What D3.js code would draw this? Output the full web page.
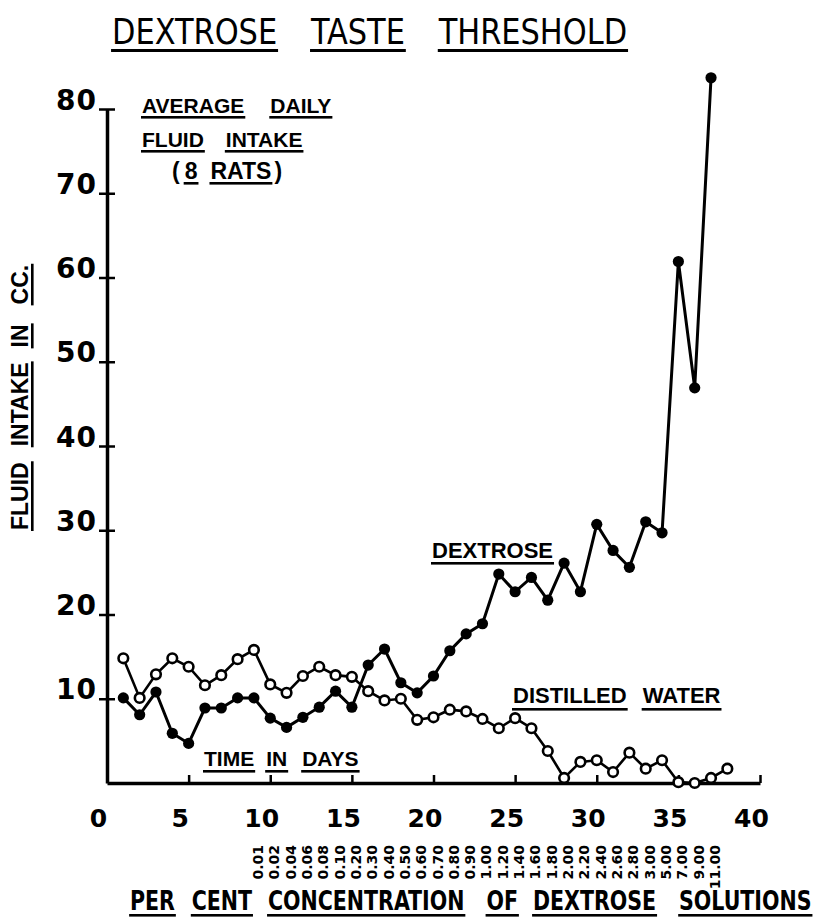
<!DOCTYPE html>
<html>
<head>
<meta charset="utf-8">
<script src="https://cdn.jsdelivr.net/npm/d3@7"></script>
<style>
  body { margin: 0; background: #fff; }
  svg { display: block; }
</style>
</head>
<body>
<div id="chart"></div>
<script>
// values (cc per day, day 1 onwards)
const dextrose = [10.1, 8.1, 10.8, 5.9, 4.7, 8.9, 8.9, 10.1, 10.1, 7.7,
    6.6, 7.8, 9.0, 10.9, 9.0, 14.0, 15.9, 11.9, 10.7, 12.7,
    15.7, 17.7, 18.9, 24.8, 22.7, 24.4, 21.7, 26.1, 22.7, 30.7,
    27.6, 25.6, 31.0, 29.7, 61.9, 46.9, 83.7];
const water = [14.8, 10.1, 12.9, 14.8, 13.8, 11.6, 12.8, 14.7, 15.8, 11.7,
    10.7, 12.7, 13.8, 12.8, 12.6, 10.9, 9.8, 10.0, 7.5, 7.8,
    8.7, 8.5, 7.6, 6.5, 7.7, 6.5, 3.8, 0.6, 2.5, 2.7,
    1.3, 3.6, 1.7, 2.7, 0.1, 0.0, 0.6, 1.7];
const concentrations = ["0.01", "0.02", "0.04", "0.06", "0.08", "0.10", "0.20", "0.30",
    "0.40", "0.50", "0.60", "0.70", "0.80", "0.90", "1.00", "1.20", "1.40", "1.60",
    "1.80", "2.00", "2.20", "2.40", "2.60", "2.80", "3.00", "5.00", "7.00", "9.00", "11.00"];
const concStartDay = 9;
const xTicks = [0, 5, 10, 15, 20, 25, 30, 35, 40];
const yTicks = [10, 20, 30, 40, 50, 60, 70, 80];

const width = 814,
    height = 921;

const letter = "'Liberation Sans', Arial, sans-serif";
const narrow = "'DejaVu Sans Condensed', 'Liberation Sans Narrow', sans-serif";
const digits = "'DejaVu Sans', sans-serif";

let svg = d3.select("#chart")
    .append("svg")
    .attr("width", width)
    .attr("height", height);

let x = d3.scaleLinear()
    .domain([0, 40])
    .range([107, 760]);

let y = d3.scaleLinear()
    .domain([0, 80])
    .range([783, 109]);

// y axis, ticks cross the line
let yAxis = svg.append("g")
    .attr("transform", `translate(${x(0)},0)`)
    .call(d3.axisLeft(y).tickValues(yTicks).tickSizeOuter(0).tickSizeInner(8).tickPadding(2));
yAxis.select(".domain").attr("stroke-width", 3.5);
yAxis.selectAll(".tick line").attr("x2", -8).attr("x1", 8).attr("stroke-width", 2.5);
yAxis.selectAll(".tick text")
    .attr("dy", 0)
    .style("font-family", digits)
    .style("font-weight", "bold")
    .style("font-size", "28px")
    .style("letter-spacing", "1px")
    .attr("fill", "#000");

// x axis, ticks point up into the plot
let xAxis = svg.append("g")
    .attr("transform", `translate(0,${y(0)})`)
    .call(d3.axisBottom(x).tickValues(xTicks).tickSizeOuter(0).tickSizeInner(-8));
xAxis.select(".domain").attr("stroke-width", 3.5);
xAxis.selectAll(".tick line").attr("stroke-width", 2.5);
xAxis.selectAll(".tick text")
    .attr("y", 44)
    .attr("dy", 0)
    .attr("dx", -9)
    .style("font-family", digits)
    .style("font-weight", "bold")
    .style("font-size", "25px")
    .attr("fill", "#000");

// lines
let line = d3.line()
    .x((d, i) => x(i + 1))
    .y(d => y(d));

svg.append("path")
    .datum(water)
    .attr("fill", "none")
    .attr("stroke", "#000")
    .attr("stroke-width", 2.6)
    .attr("d", line);

svg.append("path")
    .datum(dextrose)
    .attr("fill", "none")
    .attr("stroke", "#000")
    .attr("stroke-width", 3)
    .attr("d", line);

svg.selectAll(".water")
    .data(water)
    .join("circle")
    .attr("class", "water")
    .attr("cx", (d, i) => x(i + 1))
    .attr("cy", d => y(d))
    .attr("r", 4.8)
    .attr("fill", "#fff")
    .attr("stroke", "#000")
    .attr("stroke-width", 2.6);

svg.selectAll(".dex")
    .data(dextrose)
    .join("circle")
    .attr("class", "dex")
    .attr("cx", (d, i) => x(i + 1))
    .attr("cy", d => y(d))
    .attr("r", 5.6)
    .attr("fill", "#000");

// concentration labels under the axis, read bottom to top
svg.selectAll(".conc")
    .data(concentrations)
    .join("text")
    .attr("class", "conc")
    .attr("transform", (d, i) => `translate(${x(concStartDay + i) + 9},845) rotate(-90)`)
    .attr("text-anchor", "end")
    .style("font-family", digits)
    .style("font-weight", "bold")
    .style("font-size", "14px")
    .text(d => d);

// hand lettered labels, each word underlined
function lettering(g, segs, opts) {
    let cx = 0;
    for (let s of segs) {
        let t = g.append("text")
            .attr("x", cx)
            .attr("y", 0)
            .style("font-family", opts.family)
            .style("font-weight", opts.weight || "bold")
            .style("font-size", opts.size + "px")
            .text(s.t);
        let w = t.node().getComputedTextLength();
        if (s.u !== false) {
            g.append("rect")
                .attr("x", cx - 1)
                .attr("y", opts.ul)
                .attr("width", w + 2)
                .attr("height", opts.ulw || 2.6)
                .attr("fill", "#000");
        }
        cx += w + (s.gap !== undefined ? s.gap : opts.gap);
    }
}

lettering(svg.append("g").attr("transform", "translate(112,44) scale(0.94,1)"),
    [{t: "DEXTROSE"}, {t: "TASTE"}, {t: "THRESHOLD"}],
    {family: narrow, weight: "normal", size: 36, gap: 36, ul: 5, ulw: 3});

lettering(svg.append("g").attr("transform", "translate(142,113)"),
    [{t: "AVERAGE"}, {t: "DAILY"}],
    {family: letter, size: 21, gap: 26, ul: 3});
lettering(svg.append("g").attr("transform", "translate(142,147)"),
    [{t: "FLUID"}, {t: "INTAKE"}],
    {family: letter, size: 21, gap: 22, ul: 3});
lettering(svg.append("g").attr("transform", "translate(172,179)"),
    [{t: "(", u: false, gap: 5}, {t: "8", gap: 13}, {t: "RATS", gap: 3}, {t: ")", u: false}],
    {family: letter, size: 23, gap: 0, ul: 3});

lettering(svg.append("g").attr("transform", "translate(28,530) rotate(-90)"),
    [{t: "FLUID", gap: 16}, {t: "INTAKE", gap: 15}, {t: "IN", gap: 20}, {t: "CC."}],
    {family: letter, size: 23, gap: 16, ul: 3});

lettering(svg.append("g").attr("transform", "translate(432,558)"),
    [{t: "DEXTROSE"}],
    {family: letter, size: 22, gap: 0, ul: 4});

lettering(svg.append("g").attr("transform", "translate(513,703)"),
    [{t: "DISTILLED"}, {t: "WATER"}],
    {family: letter, size: 22, gap: 16, ul: 5});

lettering(svg.append("g").attr("transform", "translate(204,766)"),
    [{t: "TIME", gap: 12}, {t: "IN", gap: 15}, {t: "DAYS"}],
    {family: letter, size: 21, gap: 12, ul: 4});

lettering(svg.append("g").attr("transform", "translate(130,910) scale(0.88,1)"),
    [{t: "PER", gap: 19}, {t: "CENT", gap: 18}, {t: "CONCENTRATION", gap: 25},
     {t: "OF", gap: 17}, {t: "DEXTROSE", gap: 26}, {t: "SOLUTIONS"}],
    {family: narrow, size: 26, gap: 18, ul: 4});
</script>
</body>
</html>
